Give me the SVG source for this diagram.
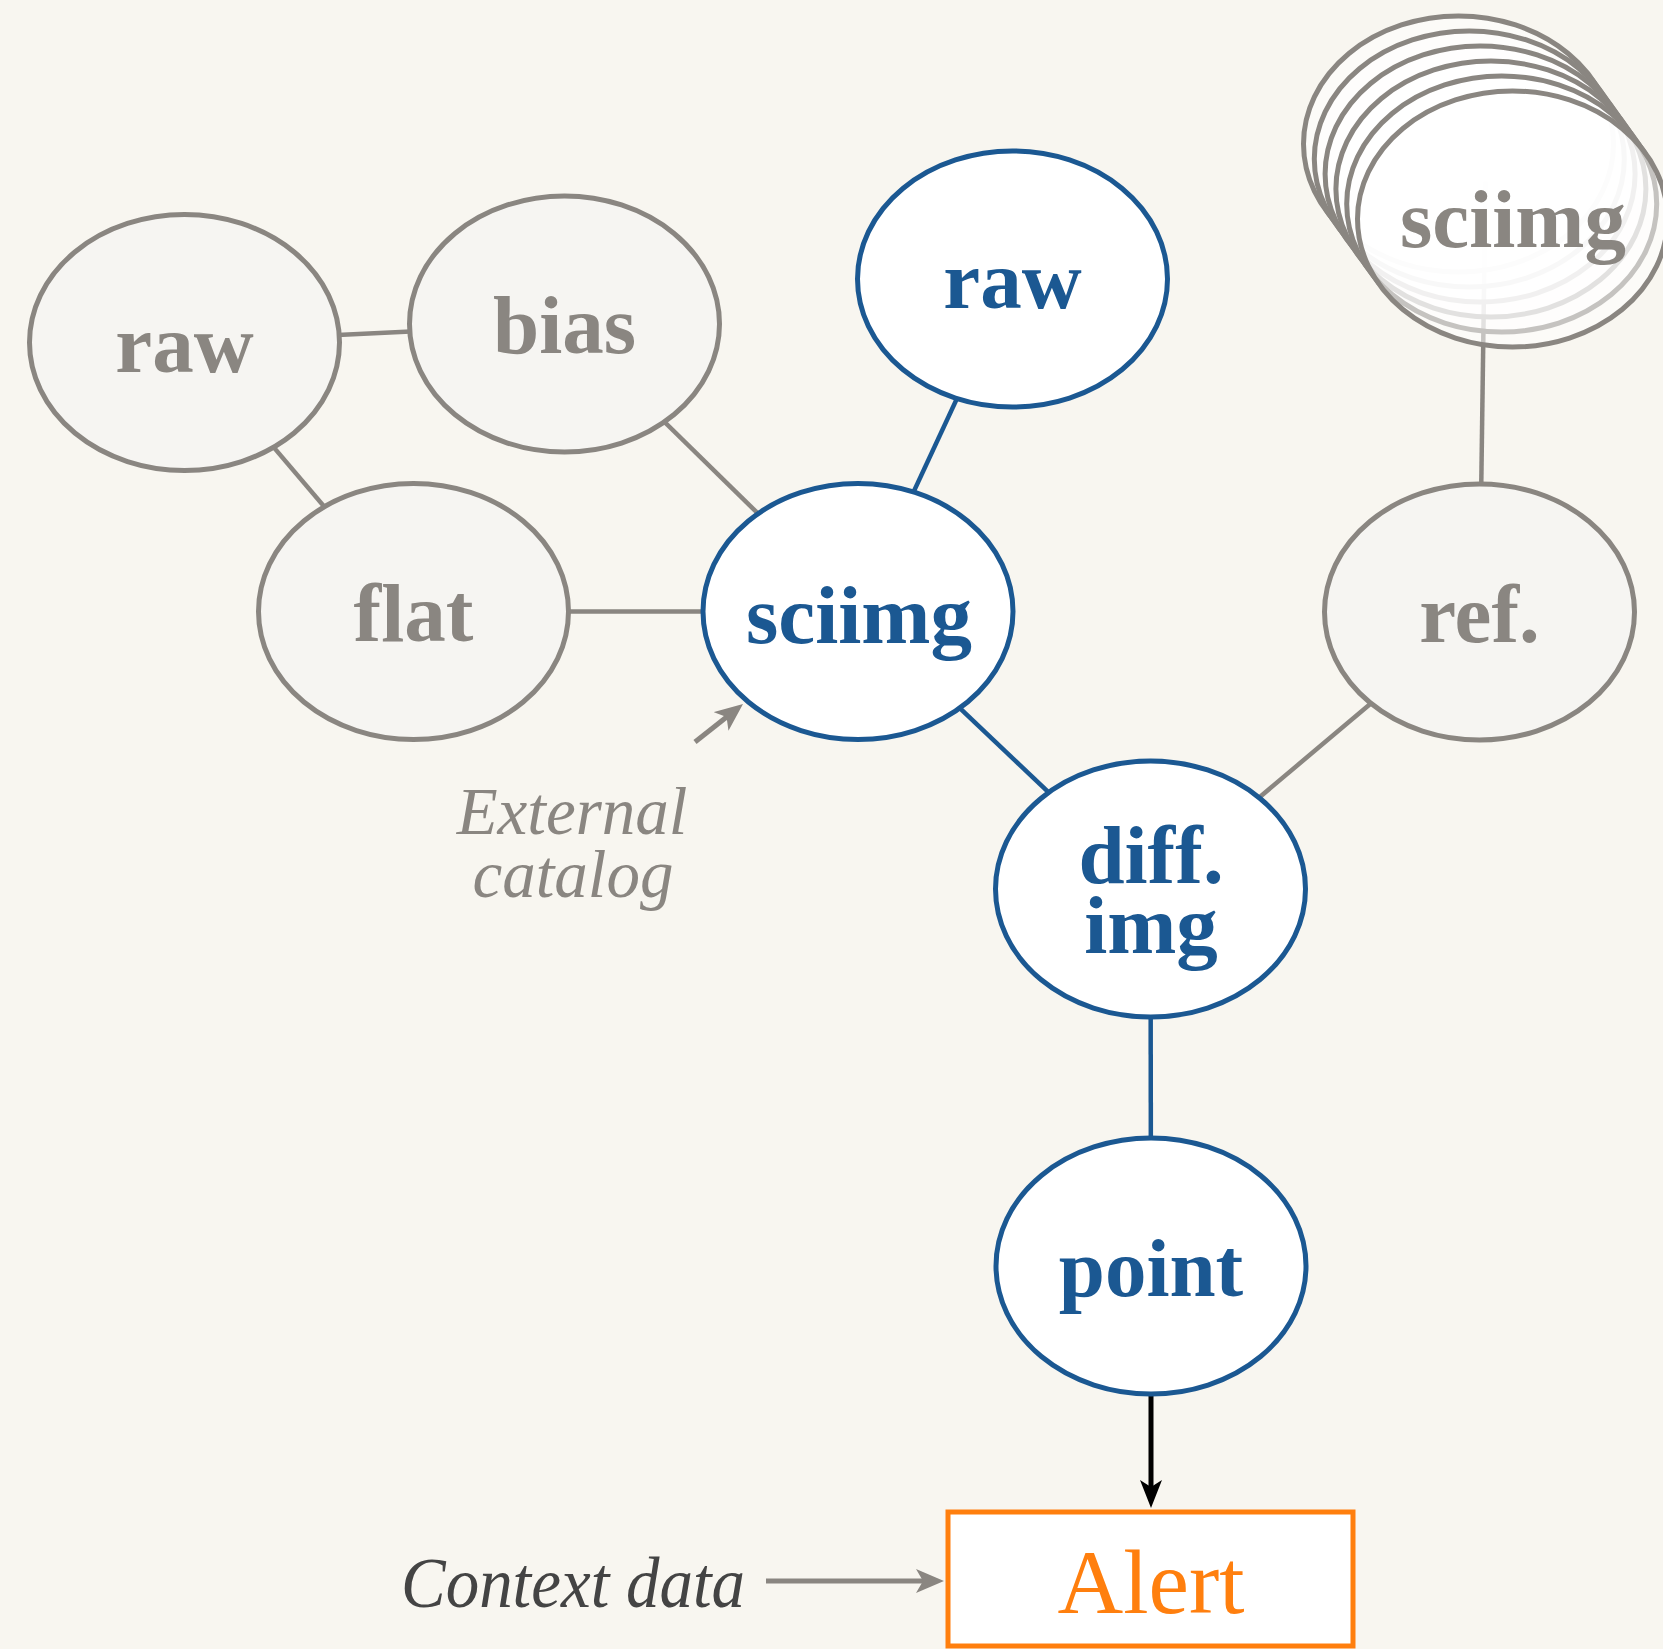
<svg xmlns="http://www.w3.org/2000/svg" width="1663" height="1649" viewBox="0 0 1663 1649">
<defs>
<style>
.bg{fill:#f8f6f0}
.eg{stroke:#8a8681;stroke-width:4.5;fill:none}
.eb{stroke:#1b5892;stroke-width:4.5;fill:none}
.ng{fill:#f6f5f2;stroke:#8a8681;stroke-width:5}
.nb{fill:#ffffff;stroke:#1b5892;stroke-width:5}
.ns{fill:#ffffff;fill-opacity:0.5;stroke:#8a8681;stroke-width:5}
.tg{font-family:"Liberation Serif","Times New Roman",serif;font-weight:bold;font-size:83px;fill:#8a8681;text-anchor:middle}
.tb{font-family:"Liberation Serif","Times New Roman",serif;font-weight:bold;font-size:83px;fill:#1b5892;text-anchor:middle}
.ti{font-family:"Liberation Serif","Times New Roman",serif;font-style:italic;text-anchor:middle}
</style>
<marker id="ahg" viewBox="0 0 28 24" refX="16" refY="12" markerWidth="28" markerHeight="24" markerUnits="userSpaceOnUse" orient="auto"><path d="M0,0 L28,12 L0,24 L7,12 z" fill="#8a8681"/></marker>
<marker id="ahk" viewBox="0 0 28 22" refX="16" refY="11" markerWidth="28" markerHeight="22" markerUnits="userSpaceOnUse" orient="auto"><path d="M0,0 L28,11 L0,22 L7,11 z" fill="#000000"/></marker>
</defs>
<rect class="bg" x="0" y="0" width="1663" height="1649"/>
<g id="connectors">
<line class="eg" x1="184.5" y1="342.5" x2="564.5" y2="324"/>
<line class="eg" x1="184.5" y1="342.5" x2="413.5" y2="611.5"/>
<line class="eg" x1="564.5" y1="324" x2="858" y2="611.5"/>
<line class="eg" x1="413.5" y1="611.5" x2="858" y2="611.5"/>
<line class="eg" x1="1479.5" y1="612" x2="1150.5" y2="889"/>
<line class="eg" x1="1485.5" y1="181.5" x2="1479.5" y2="612"/>
<line class="eb" x1="1012.5" y1="279" x2="858" y2="611.5"/>
<line class="eb" x1="858" y1="611.5" x2="1150.5" y2="889"/>
<line class="eb" x1="1150.5" y1="889" x2="1151" y2="1266"/>
<line x1="1151" y1="1396" x2="1151" y2="1496" stroke="#000" stroke-width="5" marker-end="url(#ahk)"/>
<line x1="766" y1="1581" x2="932" y2="1581" stroke="#8a8681" stroke-width="5" marker-end="url(#ahg)"/>
<line x1="695" y1="742" x2="733.6" y2="711.5" stroke="#8a8681" stroke-width="5" marker-end="url(#ahg)"/>
</g>
<g id="node-raw-left">
<ellipse class="ng" cx="184.5" cy="342.5" rx="155" ry="128"/>
<text class="tg" x="184.5" y="372">raw</text>
</g>
<g id="node-bias">
<ellipse class="ng" cx="564.5" cy="324" rx="155" ry="128"/>
<text class="tg" x="564.5" y="353">bias</text>
</g>
<g id="node-flat">
<ellipse class="ng" cx="413.5" cy="611.5" rx="155" ry="128"/>
<text class="tg" x="413.5" y="641">flat</text>
</g>
<g id="node-raw-top">
<ellipse class="nb" cx="1012.5" cy="279" rx="155" ry="128"/>
<text class="tb" x="1012.5" y="308">raw</text>
</g>
<g id="node-sciimg">
<ellipse class="nb" cx="858" cy="611.5" rx="155" ry="128"/>
<text class="tb" x="859" y="643">sciimg</text>
</g>
<g id="node-sciimg-stack">
<ellipse class="ns" cx="1458.5" cy="144" rx="155" ry="128"/>
<ellipse class="ns" cx="1469.3" cy="159" rx="155" ry="128"/>
<ellipse class="ns" cx="1480.1" cy="174" rx="155" ry="128"/>
<ellipse class="ns" cx="1490.9" cy="189" rx="155" ry="128"/>
<ellipse class="ns" cx="1501.7" cy="204" rx="155" ry="128"/>
<ellipse class="ns" cx="1512.5" cy="219" rx="155" ry="128"/>
<line class="eg" x1="1325.2" y1="209.3" x2="1379.2" y2="284.3"/>
<line class="eg" x1="1591.8" y1="78.7" x2="1645.8" y2="153.7"/>
<text class="tg" x="1513" y="247">sciimg</text>
</g>
<g id="node-ref">
<ellipse class="ng" cx="1479.5" cy="612" rx="155" ry="128"/>
<text class="tg" x="1479.5" y="642">ref.</text>
</g>
<g id="node-diff">
<ellipse class="nb" cx="1150.5" cy="889" rx="155" ry="128"/>
<text class="tb" x="1151" y="883">diff.</text>
<text class="tb" x="1151" y="953">img</text>
</g>
<g id="node-point">
<ellipse class="nb" cx="1151" cy="1266" rx="155" ry="128"/>
<text class="tb" x="1151" y="1296">point</text>
</g>
<g id="node-alert">
<rect x="948" y="1512" width="405" height="134" fill="#ffffff" stroke="#ff7f0e" stroke-width="5"/>
<text x="1151" y="1613" font-family="Liberation Serif, Times New Roman, serif" font-size="91" fill="#ff7f0e" text-anchor="middle">Alert</text>
</g>
<g id="label-external">
<text class="ti" x="572" y="834" font-size="67" fill="#8a8681">External</text>
<text class="ti" x="573" y="897" font-size="67" fill="#8a8681">catalog</text>
</g>
<g id="label-context">
<text class="ti" x="573" y="1607" font-size="72" fill="#444444" textLength="344" lengthAdjust="spacingAndGlyphs">Context data</text>
</g>
</svg>
